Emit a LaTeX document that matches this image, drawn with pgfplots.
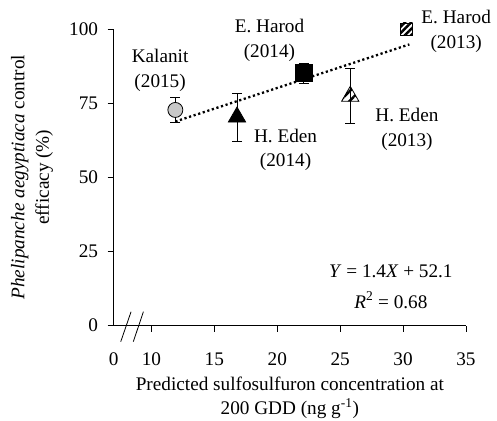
\documentclass[border=0pt]{standalone}
\usepackage{fontspec}
\setmainfont{Liberation Serif}
\usepackage{pgfplots}
\pgfplotsset{compat=1.18}
\usetikzlibrary{patterns.meta}
\definecolor{lgray}{HTML}{C8C8C8}
\begin{document}
\fontsize{19.3}{24.5}\selectfont
\begin{tikzpicture}
\useasboundingbox (-113.7bp,-95.5bp) rectangle (383.3bp,325.5bp);
\begin{axis}[
  scale only axis, width=352.3bp, height=296.5bp,
  xmin=7, xmax=35, ymin=0, ymax=100,
  axis x line=bottom, axis y line=left,
  axis line style={-, line width=0.8bp},
  xtick={10,15,...,35}, ytick={0,25,...,100},
  extra x ticks={7}, extra x tick labels={0},
  extra x tick style={tick style={draw=none}},
  tick align=outside, major tick length=6bp,
  tick style={black, line width=0.8bp},
  /pgf/number format/assume math mode=true,
  xticklabel style={yshift=-15bp},
  yticklabel style={xshift=-3bp},
  clip=false,
  xlabel={Predicted sulfosulfuron concentration at\\200 GDD (ng g\textsuperscript{-1})},
  ylabel={\textit{Phelipanche aegyptiaca} control\\efficacy (\%)},
  every axis x label/.style={at={(axis description cs:0.5,-0.2445)}, anchor=center, align=center},
  every axis y label/.style={at={(axis description cs:-0.232,0.5)}, rotate=90, anchor=center, align=center},
]
% regression line
\addplot[black, line width=2.3bp, dash pattern=on 2.2bp off 2.6bp, line cap=butt] coordinates {(11.9,68.8) (30.5,94.8)};
% Kalanit 2015
\addplot[only marks, mark=*, mark size=7.5bp,
  mark options={fill=lgray, draw=black, line width=0.8bp},
  error bars/.cd, y dir=both, y explicit,
  error bar style={line width=0.8bp, black},
  error mark options={rotate=90, mark size=5bp, line width=0.8bp, black}]
  coordinates {(11.9,72.7) +- (0,4.3)};
% H. Eden 2014
\addplot[only marks, mark=triangle*, mark size=10bp,
  mark options={fill=black, draw=black, line width=0.8bp},
  error bars/.cd, y dir=both, y explicit,
  error bar style={line width=0.8bp, black},
  error mark options={rotate=90, mark size=5bp, line width=0.8bp, black}]
  coordinates {(16.8,70.3) +- (0,8.1)};
% E. Harod 2014
\addplot[only marks, mark=square*, mark size=8.5bp,
  mark options={fill=black, draw=black, line width=0.8bp},
  error bars/.cd, y dir=both, y explicit,
  error bar style={line width=0.8bp, black},
  error mark options={rotate=90, mark size=5bp, line width=0.8bp, black}]
  coordinates {(22.1,85.1) +- (0,3.3)};
% H. Eden 2013
\addplot[only marks, mark=triangle*, mark size=10bp,
  mark options={draw=black, line width=0.8bp, fill=white, pattern={Lines[angle=45,distance=7bp,line width=2.5bp]}},
  error bars/.cd, y dir=both, y explicit,
  error bar style={line width=0.8bp, black},
  error mark options={rotate=90, mark size=5bp, line width=0.8bp, black}]
  coordinates {(25.8,77.3) +- (0,9.3)};
% E. Harod 2013
\addplot[only marks, mark=square*, mark size=6bp,
  mark options={draw=black, line width=0.8bp, pattern={Lines[angle=45,distance=4.5bp,line width=2.5bp]}}]
  coordinates {(30.3,100)};
% axis break
\draw[line width=0.8bp] (axis cs:7.56,-5.46) -- (axis cs:8.38,4.65);
\draw[line width=0.8bp] (axis cs:8.56,-5.46) -- (axis cs:9.36,4.65);
% labels
\node[align=center] at (axis cs:10.69,86.0) {Kalanit\\(2015)};
\node[align=center] at (axis cs:19.38,96.1) {E. Harod\\(2014)};
\node[align=center] at (axis cs:34.22,99.2) {E. Harod\\(2013)};
\node[align=center] at (axis cs:30.31,66.2) {H. Eden\\(2013)};
\node[align=center] at (axis cs:20.66,59.2) {H. Eden\\(2014)};
\node at (axis cs:29.03,18.4) {\textit{Y} = 1.4\textit{X} + 52.1};
\node at (axis cs:29.03,8.6) {\textit{R}\textsuperscript{2} = 0.68};
\end{axis}
\end{tikzpicture}
\end{document}
